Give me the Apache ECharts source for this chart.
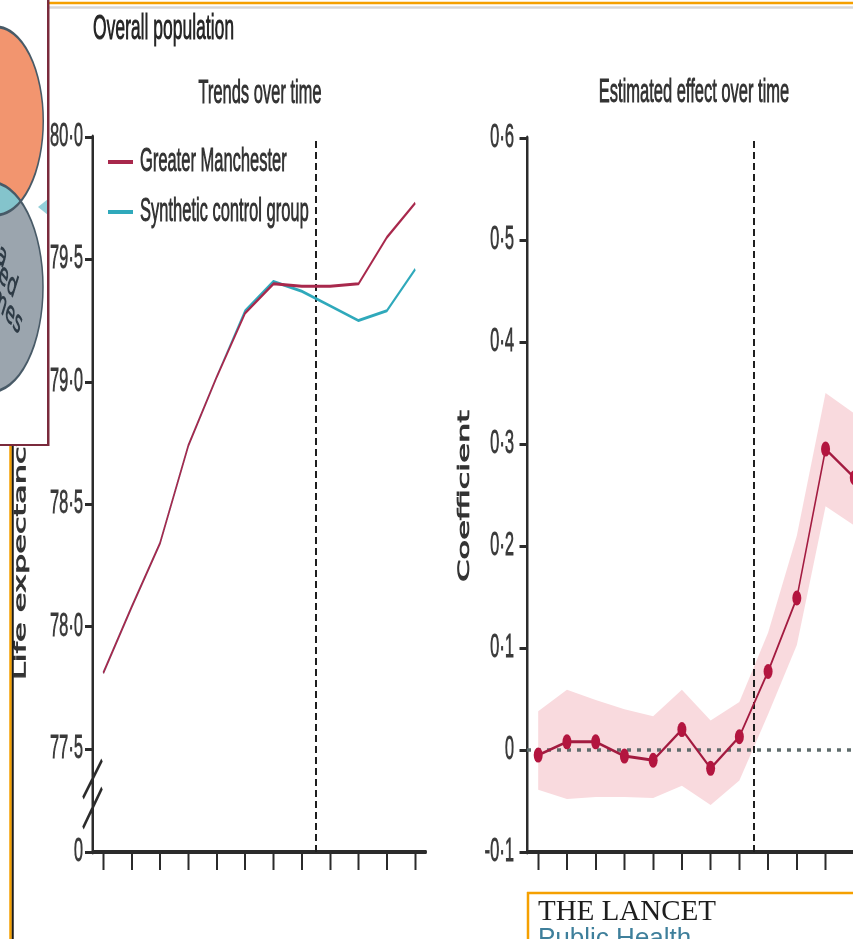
<!DOCTYPE html>
<html><head><meta charset="utf-8">
<script src="https://cdn.jsdelivr.net/npm/echarts@6/dist/echarts.min.js"></script>
<style>
html,body{margin:0;padding:0;background:#fff;overflow:hidden;}
#frame{width:853px;height:939px;overflow:hidden;position:relative;background:#fff;}
#chart{width:1760px;height:939px;transform:scaleX(0.5);transform-origin:0 0;}
</style></head><body>
<div id="frame"><div id="chart"></div></div>
<script>
// ---------------- data ----------------
const periods = [0, 1, 2, 3, 4, 5, 6, 7, 8, 9, 10, 11];
const interventionAt = 7.5;
const greaterManchester = [77.81, 78.08, 78.34, 78.74, 79.02, 79.28, 79.40, 79.39, 79.39, 79.40, 79.59, 79.73];
const syntheticControl  = [77.81, 78.08, 78.34, 78.74, 79.02, 79.29, 79.41, 79.37, 79.31, 79.25, 79.29, 79.46];
const coefficient = [-0.005, 0.008, 0.008, -0.006, -0.010, 0.020, -0.018, 0.013, 0.077, 0.149, 0.295, 0.267];
const ciLower = [-0.039, -0.048, -0.046, -0.046, -0.047, -0.035, -0.054, -0.030, 0.035, 0.103, 0.239, 0.220];
const ciUpper = [0.038, 0.059, 0.049, 0.040, 0.033, 0.059, 0.029, 0.047, 0.115, 0.210, 0.350, 0.330];
const leftTickValues = [77.079, 77.5, 78.0, 78.5, 79.0, 79.5, 80.0];
const leftTickLabels = ['0', '77·5', '78·0', '78·5', '79·0', '79·5', '80·0'];
const rightTickValues = [-0.1, 0, 0.1, 0.2, 0.3, 0.4, 0.5, 0.6];
const rightTickLabels = ['-0·1', '0', '0·1', '0·2', '0·3', '0·4', '0·5', '0·6'];

// ---------------- styling ----------------
const C_GM = '#a8284c', C_SYN = '#2fa9bb', C_COEF = '#a31b40', C_MARK = '#b3153f', C_BAND = '#f9dade';
const C_AXIS = '#2b2b2b', C_TXT = '#333333';
const FONT = '"Liberation Sans", Arial, sans-serif';
const SANS2 = '"DejaVu Sans", Verdana, sans-serif';

function labelFrom(values, labels) {
  return function (v) {
    let best = 0, bd = Infinity;
    values.forEach((t, i) => { const d = Math.abs(t - v); if (d < bd) { bd = d; best = i; } });
    return labels[best];
  };
}
const pairs = (xs, ys) => xs.map((x, i) => [x, ys[i]]);

const G0 = {left: 185, top: 137, width: 667, height: 715};
const G1 = {left: 1054, top: 138, width: 677, height: 714};

function axisCommon(extra) {
  return Object.assign({
    type: 'value',
    splitLine: {show: false},
    axisLine: {show: true, onZero: false, lineStyle: {color: C_AXIS, width: 5}},
  }, extra);
}
const tickLabelStyle = {fontSize: 33, fontFamily: FONT, color: '#3a3a3a', textBorderColor: '#3a3a3a', textBorderWidth: 0.8};

// Venn lens (intersection of two circles) as polygon
const c1 = {x: -7.5, y: 121, r: 94}, c2 = {x: -19, y: 287, r: 105};
function lens(a, b) {
  const dx = b.x - a.x, dy = b.y - a.y, d = Math.hypot(dx, dy);
  const al = (a.r * a.r - b.r * b.r + d * d) / (2 * d);
  const alpha = Math.acos(al / a.r), beta = Math.acos((d - al) / b.r);
  const t1 = Math.atan2(dy, dx), t2 = Math.atan2(-dy, -dx);
  const pts = [];
  for (let k = 0; k <= 40; k++) { const t = t1 - alpha + 2 * alpha * k / 40; pts.push([a.x + a.r * Math.cos(t), a.y + a.r * Math.sin(t)]); }
  for (let k = 0; k <= 40; k++) { const t = t2 - beta + 2 * beta * k / 40; pts.push([b.x + b.r * Math.cos(t), b.y + b.r * Math.sin(t)]); }
  return pts;
}
const headStyle = (txt, align, fill, size) => ({text: txt, font: (size || 33) + 'px ' + FONT, fill: fill, stroke: fill, lineWidth: 0.9, align: align, verticalAlign: 'middle'});

const elements = [
  // headings
  {type: 'text', x: 186, y: 29, z: 10, style: headStyle('Overall population', 'left', '#262626', 35)},
  {type: 'text', x: 520, y: 94, z: 10, style: headStyle('Trends over time', 'center', C_TXT)},
  {type: 'text', x: 1388, y: 92.5, z: 10, style: headStyle('Estimated effect over time', 'center', C_TXT)},
  // axis titles
  {type: 'text', x: 43, y: 680, rotation: Math.PI / 2, z: 10, style: {text: 'Life expectancy (years)', font: '32px ' + SANS2, fill: C_TXT, stroke: C_TXT, lineWidth: 1.4, align: 'left', verticalAlign: 'middle'}},
  {type: 'text', x: 930, y: 496, rotation: Math.PI / 2, z: 10, style: {text: 'Coefficient', font: '32px ' + SANS2, fill: C_TXT, stroke: C_TXT, lineWidth: 1.4, align: 'center', verticalAlign: 'middle'}},
  // axis break marks
  {type: 'line', z: 20, shape: {x1: G0.left - 19, y1: 798, x2: G0.left + 19, y2: 760}, style: {stroke: C_AXIS, lineWidth: 4}},
  {type: 'line', z: 20, shape: {x1: G0.left - 19, y1: 828, x2: G0.left + 19, y2: 788}, style: {stroke: C_AXIS, lineWidth: 4}},
  // page decorations
  {type: 'line', z: 90, shape: {x1: 96, y1: 3, x2: 1760, y2: 3}, style: {stroke: '#f5a000', lineWidth: 2.5}},
  {type: 'line', z: 90, shape: {x1: 96, y1: 7.5, x2: 1760, y2: 7.5}, style: {stroke: '#d8d8d8', lineWidth: 2.5}},
  {type: 'line', z: 90, shape: {x1: 21, y1: 445, x2: 21, y2: 939}, style: {stroke: '#f5a000', lineWidth: 5}},
  {type: 'line', z: 90, shape: {x1: 25.5, y1: 445, x2: 25.5, y2: 939}, style: {stroke: '#1c1c1c', lineWidth: 4}},
  // inset with Venn diagram
  {type: 'rect', z: 100, shape: {x: -10, y: -10, width: 106, height: 455}, style: {fill: '#ffffff'}},
  {type: 'circle', z: 101, shape: {cx: c1.x, cy: c1.y, r: c1.r}, style: {fill: '#f2956f'}},
  {type: 'circle', z: 101, shape: {cx: c2.x, cy: c2.y, r: c2.r}, style: {fill: '#9ba5ae'}},
  {type: 'polygon', z: 102, shape: {points: lens(c1, c2)}, style: {fill: '#84c4cc'}},
  {type: 'circle', z: 103, shape: {cx: c1.x, cy: c1.y, r: c1.r}, style: {fill: 'none', stroke: '#485a67', lineWidth: 3}},
  {type: 'circle', z: 103, shape: {cx: c2.x, cy: c2.y, r: c2.r}, style: {fill: 'none', stroke: '#485a67', lineWidth: 3}},
  {type: 'text', z: 104, x: 12, y: 262, rotation: -0.55, style: {text: 'data', font: '31px ' + SANS2, fill: '#2d3a45', stroke: '#2d3a45', lineWidth: 0.8, align: 'right', verticalAlign: 'middle'}},
  {type: 'text', z: 104, x: 32, y: 292, rotation: -0.55, style: {text: 'linked', font: '31px ' + SANS2, fill: '#2d3a45', stroke: '#2d3a45', lineWidth: 0.8, align: 'right', verticalAlign: 'middle'}},
  {type: 'text', z: 104, x: 42, y: 328, rotation: -0.55, style: {text: 'outcomes', font: '31px ' + SANS2, fill: '#2d3a45', stroke: '#2d3a45', lineWidth: 0.8, align: 'right', verticalAlign: 'middle'}},
  {type: 'polygon', z: 104, shape: {points: [[76, 207], [96, 199], [96, 215]]}, style: {fill: '#93cfd9'}},
  {type: 'line', z: 105, shape: {x1: 96.5, y1: 0, x2: 96.5, y2: 446}, style: {stroke: '#7a2a3c', lineWidth: 5}},
  {type: 'line', z: 105, shape: {x1: 0, y1: 445, x2: 99, y2: 445}, style: {stroke: '#7a2a3c', lineWidth: 2}},
  // journal badge (not squeezed: scaleX compensates)
  {type: 'rect', z: 110, shape: {x: 1056, y: 893, width: 800, height: 100}, style: {fill: '#ffffff'}},
  {type: 'line', z: 111, shape: {x1: 1054, y1: 893, x2: 1760, y2: 893}, style: {stroke: '#f5a000', lineWidth: 2.5}},
  {type: 'line', z: 111, shape: {x1: 1056, y1: 892, x2: 1056, y2: 939}, style: {stroke: '#f5a000', lineWidth: 5}},
  {type: 'text', z: 112, x: 1076, y: 912, scaleX: 2, style: {text: 'THE LANCET', font: '29px "Liberation Serif", serif', fill: '#1e1e1e', align: 'left', verticalAlign: 'middle'}},
  {type: 'text', z: 112, x: 1076, y: 939, scaleX: 2, style: {text: 'Public Health', font: '26px ' + FONT, fill: '#3e7f9b', align: 'left', verticalAlign: 'middle'}}
];

const option = {
  animation: false,
  backgroundColor: '#ffffff',
  grid: [
    Object.assign({outerBoundsMode: 'none', containLabel: false}, G0),
    Object.assign({outerBoundsMode: 'none', containLabel: false}, G1)
  ],
  legend: {
    data: ['Greater Manchester', 'Synthetic control group'],
    orient: 'vertical', left: 216, top: 145, padding: 0,
    itemWidth: 50, itemHeight: 4, itemGap: 16, icon: 'rect', selectedMode: false,
    textStyle: {fontSize: 33, fontFamily: FONT, color: C_TXT, lineHeight: 34, padding: [0, 0, 0, 9],
      textBorderColor: C_TXT, textBorderWidth: 0.9}
  },
  xAxis: [
    axisCommon({gridIndex: 0, min: -0.38, max: 11.38,
      axisLine: {show: true, onZero: false, lineStyle: {color: C_AXIS, width: 4}},
      axisTick: {show: true, customValues: periods, length: 18, lineStyle: {color: C_AXIS, width: 4}},
      axisLabel: {show: false}}),
    axisCommon({gridIndex: 1, min: -0.39, max: 11.39,
      axisLine: {show: true, onZero: false, lineStyle: {color: C_AXIS, width: 4}},
      axisTick: {show: true, customValues: periods, length: 18, lineStyle: {color: C_AXIS, width: 4}},
      axisLabel: {show: false}})
  ],
  yAxis: [
    axisCommon({gridIndex: 0, min: leftTickValues[0], max: 80,
      axisTick: {show: true, customValues: leftTickValues, length: 15, lineStyle: {color: C_AXIS, width: 3}},
      axisLabel: Object.assign({show: true, customValues: leftTickValues, formatter: labelFrom(leftTickValues, leftTickLabels),
        margin: 19}, tickLabelStyle)}),
    axisCommon({gridIndex: 1, min: -0.1, max: 0.6,
      axisTick: {show: true, customValues: rightTickValues, length: 15, lineStyle: {color: C_AXIS, width: 3}},
      axisLabel: Object.assign({show: true, customValues: rightTickValues, formatter: labelFrom(rightTickValues, rightTickLabels),
        margin: 26}, tickLabelStyle)})
  ],
  series: [
    {name: 'Synthetic control group', type: 'line', xAxisIndex: 0, yAxisIndex: 0,
      data: pairs(periods, syntheticControl), symbol: 'none', z: 2,
      lineStyle: {color: C_SYN, width: 3}, itemStyle: {color: C_SYN},
      markLine: {silent: true, symbol: 'none', z: 1, label: {show: false},
        lineStyle: {type: [7, 4], color: '#1e1e1e', width: 4},
        data: [{xAxis: interventionAt}]}},
    {name: 'Greater Manchester', type: 'line', xAxisIndex: 0, yAxisIndex: 0,
      data: pairs(periods, greaterManchester), symbol: 'none', z: 3,
      lineStyle: {color: C_GM, width: 3}, itemStyle: {color: C_GM}},
    {name: '95% CI', type: 'custom', xAxisIndex: 1, yAxisIndex: 1, silent: true, z: 1,
      data: periods.map((p, i) => [p, ciLower[i], ciUpper[i]]),
      encode: {x: 0, y: [1, 2]},
      renderItem: function (params, api) {
        if (params.dataIndex !== 0) return null;
        const up = periods.map((p, i) => api.coord([p, ciUpper[i]]));
        const lo = periods.map((p, i) => api.coord([p, ciLower[i]])).reverse();
        return {type: 'polygon', shape: {points: up.concat(lo)}, style: {fill: C_BAND}};
      }},
    {name: 'Coefficient', type: 'line', xAxisIndex: 1, yAxisIndex: 1,
      data: pairs(periods, coefficient), symbol: 'circle', symbolSize: [18, 15], z: 10,
      lineStyle: {color: C_COEF, width: 3}, itemStyle: {color: C_MARK},
      markLine: {silent: true, symbol: 'none', z: 5, label: {show: false},
        data: [
          {xAxis: interventionAt, lineStyle: {type: [7, 4], color: '#1e1e1e', width: 4}},
          {yAxis: 0, lineStyle: {type: [8, 12], color: '#5f6c6c', width: 3.5}}
        ]}}
  ],
  graphic: {elements: elements}
};

const chart = echarts.init(document.getElementById('chart'), null, {renderer: 'canvas'});
chart.setOption(option);
</script>
</body></html>
